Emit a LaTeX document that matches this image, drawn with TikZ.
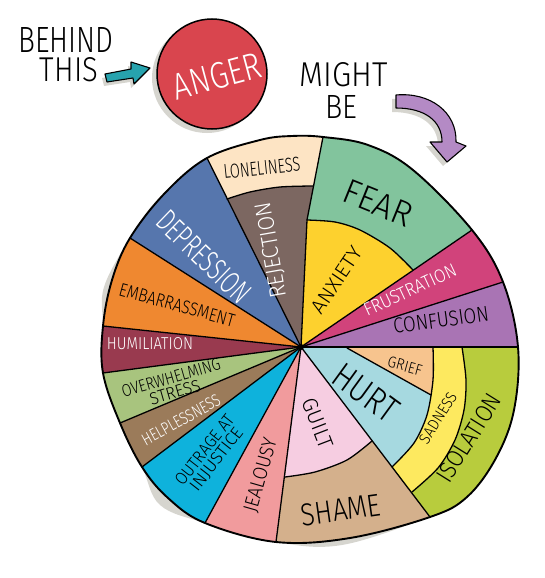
\documentclass[tikz,border=0pt]{standalone}
\usepackage{fontspec}
\IfFontExistsTF{Fira Sans Light}{\setmainfont{Fira Sans Light}}{\setmainfont{Fira Sans}}
\usepackage{graphicx}
\usetikzlibrary{calc}
\definecolor{shadowgray}{HTML}{D6D5CF}
\definecolor{angerred}{HTML}{D9454E}
\definecolor{tealarrow}{HTML}{27A3AE}
\definecolor{purplearrow}{HTML}{B48AC5}
\definecolor{cLone}{HTML}{FDE4C4}
\definecolor{cRej}{HTML}{7C6761}
\definecolor{cDep}{HTML}{5676AD}
\definecolor{cEmb}{HTML}{EF8830}
\definecolor{cHum}{HTML}{993A4F}
\definecolor{cOvw}{HTML}{A8C47E}
\definecolor{cHelp}{HTML}{9B7B5A}
\definecolor{cOut}{HTML}{0EB2DC}
\definecolor{cJeal}{HTML}{F19B9D}
\definecolor{cGuilt}{HTML}{F6CDE1}
\definecolor{cShame}{HTML}{D4B08C}
\definecolor{cIso}{HTML}{B8CC3D}
\definecolor{cSad}{HTML}{FDE95F}
\definecolor{cGrief}{HTML}{F7C48E}
\definecolor{cHurt}{HTML}{A6D9E0}
\definecolor{cConf}{HTML}{A974B4}
\definecolor{cFrus}{HTML}{D1437B}
\definecolor{cFear}{HTML}{82C49D}
\definecolor{cAnx}{HTML}{FDD12E}
\newcommand\lbl[3]{\resizebox{#1pt}{#2pt}{#3}}
\newcommand\sector[3]{\fill[#1] (H) -- ($(H)!1.6!(#2)$) -- ($(H)!1.6!(#3)$) -- cycle;}
\begin{document}
\begin{tikzpicture}[x=1pt,y=1pt,
  lab/.style={inner sep=0pt,outer sep=0pt,text=black},
  wlab/.style={lab,text=white},
  twoline/.style={align=center,font=\fontsize{10}{15}\selectfont},
  edge/.style={line width=1.3pt,line join=round,line cap=round},
  rim/.style={line width=1.9pt,line join=round},
  shade/.style={fill=shadowgray}]
\useasboundingbox (0,0) rectangle (545,-578);
% ---------- key points of the wheel ----------
\coordinate (H) at (301,-347);
\coordinate (B) at (307,-220);
\coordinate (o1) at (323,-137);
\coordinate (o2) at (472,-230);
\coordinate (o3) at (503,-282);
\coordinate (o4) at (518,-347);
\coordinate (o5) at (430,-517);
\coordinate (o6) at (276,-542);
\coordinate (o7) at (205,-523);
\coordinate (o8) at (142,-467);
\coordinate (o9) at (120,-423);
\coordinate (o10) at (103,-373);
\coordinate (o11) at (103,-326);
\coordinate (o12) at (130,-238);
\coordinate (o13) at (207,-158);
\def\wheel{plot[smooth cycle,tension=0.6] coordinates {(o1) (368,-145) (413,-170) (o2) (o3) (o4) (514,-410) (496,-458) (467,-497) (o5) (350,-538) (o6) (o7) (168,-498) (o8) (o9) (o10) (o11) (112,-280) (o12) (165,-193) (o13) (260,-140) (292,-136)}}
% ---------- shadows ----------
\begin{scope}[shift={(-8,-7)}]
  \fill[shade] \wheel;
\end{scope}
\fill[shade] (207,-78) circle (55);
\begin{scope}[shift={(-3,-4)}]
  \fill[shade] (105,-74) -- (131,-69) -- (131,-62) -- (150,-68) -- (134,-84) -- (133,-78) -- (107,-82) -- cycle;
\end{scope}
\begin{scope}[shift={(-4,-4)}]
  \fill[shade] (396,-95) .. controls (430,-92) and (457,-112) .. (456,-142) -- (466,-146) -- (447,-162) -- (430,-142) -- (442,-142) .. controls (442,-121) and (425,-108) .. (396,-108) -- cycle;
\end{scope}
% ---------- wheel fills ----------
\begin{scope}
  \clip \wheel;
  \fill[cLone] (H) -- ($(H)!1.6!(o13)$) -- (339,-54) -- (o1) -- (B) -- cycle;
  \fill[cRej] (H) -- plot[smooth] coordinates {(227,-199) (250,-192) (280,-187) (313.5,-186)} -- (B) -- cycle;
  \fill[cFear] (B) -- (o1) -- (339,-54) -- ($(H)!1.6!(o2)$) -- (H) -- cycle;
  \fill[cAnx] (H) -- plot[smooth] coordinates {(B) (335,-222) (360,-230) (390,-248) (413,-270)} -- cycle;
  \sector{cFrus}{o2}{o3}
  \sector{cConf}{o3}{o4}
  \sector{cIso}{o4}{o5}
  \fill[cSad] (H) -- plot[smooth] coordinates {(462,-347) (466,-380) (464,-410) (455,-440) (438,-468) (412,-492)} -- cycle;
  \fill[cHurt] (H) -- plot[smooth] coordinates {(433,-347) (433,-380) (427,-415) (414,-443) (392,-467)} -- cycle;
  \fill[cGrief] (347,-348) -- plot[smooth] coordinates {(433,-347) (433.5,-372) (431,-395)} -- cycle;
  \sector{cShame}{o5}{o6}
  \fill[cGuilt] (H) -- plot[smooth] coordinates {(372,-441) (347,-460) (315,-472) (285,-477)} -- cycle;
  \sector{cJeal}{o6}{o7}
  \sector{cOut}{o7}{o8}
  \sector{cHelp}{o8}{o9}
  \sector{cOvw}{o9}{o10}
  \sector{cHum}{o10}{o11}
  \sector{cEmb}{o11}{o12}
  \sector{cDep}{o12}{o13}
\end{scope}
% ---------- wheel lines ----------
\draw[edge] (H) -- (B) -- (o1);
\foreach \p in {o2,o3,o4,o5,o6,o7,o8,o9,o10,o11,o12,o13} \draw[edge] (H) -- (\p);
\draw[edge] plot[smooth] coordinates {(227,-199) (250,-192) (280,-187) (313.5,-186)};
\draw[edge] plot[smooth] coordinates {(B) (335,-222) (360,-230) (390,-248) (413,-270)};
\draw[edge] plot[smooth] coordinates {(462,-347) (466,-380) (464,-410) (455,-440) (438,-468) (412,-492)};
\draw[edge] plot[smooth] coordinates {(433,-347) (433,-380) (427,-415) (414,-443) (392,-467)};
\draw[edge] (347,-348) -- (431,-395);
\draw[edge] plot[smooth] coordinates {(372,-441) (347,-460) (315,-472) (285,-477)};
\draw[rim] \wheel;
\fill (H) circle (3);
% ---------- anger circle and arrows ----------
\node[circle,fill=angerred,draw=black,line width=1.5pt,minimum size=110pt,inner sep=0pt] (anger) at (212,-74) {};
\fill[tealarrow,draw=black,line width=1.1pt,line join=round] (105,-74) -- (131,-69) -- (131,-62) -- (150,-68) -- (134,-84) -- (133,-78) -- (107,-82) -- cycle;
\fill[purplearrow,draw=black,line width=1.1pt,line join=round] (396,-95) .. controls (430,-92) and (457,-112) .. (456,-142) -- (466,-146) -- (447,-162) -- (430,-142) -- (442,-142) .. controls (442,-121) and (425,-108) .. (396,-108) -- cycle;
% ---------- texts ----------
\node[lab] (behind) at (66,-40) {\lbl{95}{25}{BEHIND}};
\node[lab] (this) at (69,-70) {\lbl{58}{24}{THIS}};
\node[lab] (might) at (344,-75) {\lbl{88}{24}{MIGHT}};
\node[lab] (be) at (341,-107) {\lbl{32}{23}{BE}};
\node[wlab,rotate=15] (angertxt) at (217,-76) {\lbl{90}{26}{ANGER}};
\node[lab,rotate=6] (lone) at (262,-168) {\lbl{77}{14}{LONELINESS}};
\node[wlab,rotate=100] (rej) at (272,-250) {\lbl{97}{16}{REJECTION}};
\node[wlab,rotate=-44] (dep) at (204,-257) {\lbl{118}{22}{DEPRESSION}};
\node[lab,rotate=-15.5] (emb) at (177,-305) {\lbl{119}{13}{EMBARRASSMENT}};
\node[wlab] (hum) at (150,-344) {\lbl{86}{12}{HUMILIATION}};
\node[lab,twoline,rotate=16] (ovw) at (173,-385) {\lbl{102}{12}{OVERWHELMING}\\\lbl{52}{12}{STRESS}};
\node[wlab,rotate=29] (help) at (181,-420) {\lbl{87}{12}{HELPLESSNESS}};
\node[lab,twoline,rotate=52] (out) at (211,-455) {\lbl{85}{12}{OUTRAGE AT}\\\lbl{75}{12}{INJUSTICE}};
\node[lab,rotate=74] (jeal) at (261,-475) {\lbl{76}{14}{JEALOUSY}};
\node[lab,rotate=-69] (guilt) at (318,-423) {\lbl{52}{15}{GUILT}};
\node[lab,rotate=8] (shame) at (341,-510) {\lbl{80}{22}{SHAME}};
\node[lab,rotate=-36] (hurt) at (366,-393) {\lbl{72}{25}{HURT}};
\node[lab,rotate=-15] (grief) at (405,-366) {\lbl{35}{11}{GRIEF}};
\node[lab,rotate=58] (sad) at (438,-418) {\lbl{57}{11}{SADNESS}};
\node[lab,rotate=58] (iso) at (469,-438) {\lbl{100}{17}{ISOLATION}};
\node[lab,rotate=8] (conf) at (441,-320) {\lbl{96}{15}{CONFUSION}};
\node[wlab,rotate=25] (frus) at (410,-290) {\lbl{100}{13}{FRUSTRATION}};
\node[lab,rotate=56] (anx) at (337,-280) {\lbl{75}{14}{ANXIETY}};
\node[lab,rotate=-22] (fear) at (378,-203) {\lbl{72}{24}{FEAR}};
\end{tikzpicture}
\end{document}
